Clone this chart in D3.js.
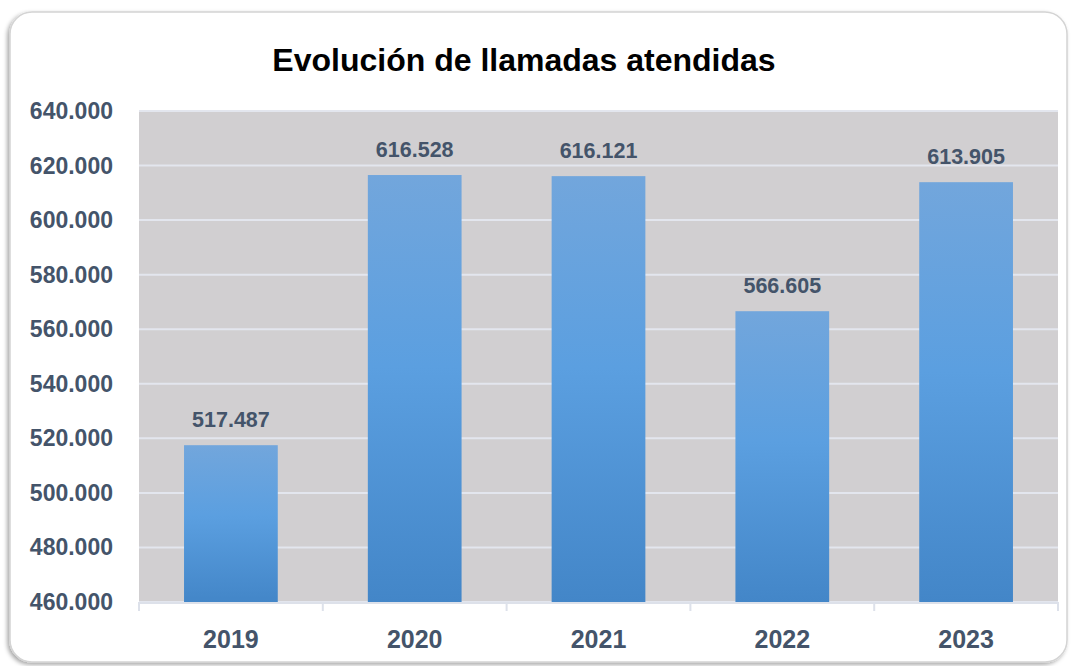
<!DOCTYPE html>
<html>
<head>
<meta charset="utf-8">
<script src="https://cdn.jsdelivr.net/npm/d3@7"></script>
<style>
  body { margin: 0; background: #fff; }
  text { font-family: "Liberation Sans", Arial, sans-serif; font-weight: bold; }
</style>
</head>
<body>
<div class="chart"></div>
<script>
const years = ['2019', '2020', '2021', '2022', '2023'];
const calls = [517487, 616528, 616121, 566605, 613905];
const yTicks = [460000, 480000, 500000, 520000, 540000, 560000, 580000, 600000, 620000, 640000];

const W = 1073, H = 666;
let margin = {top: 111, bottom: 64, left: 139, right: 15};
const width = W - margin.left - margin.right,
  height = H - margin.top - margin.bottom;

const fmt = d => d3.format(',')(d).replace(/,/g, '.');

const svg = d3.select('.chart').append('svg')
  .attr('width', W)
  .attr('height', H);

const defs = svg.append('defs');
const grad = defs.append('linearGradient')
  .attr('id', 'barGrad').attr('x1', 0).attr('y1', 0).attr('x2', 0).attr('y2', 1);
grad.append('stop').attr('offset', '0%').attr('stop-color', '#72a6dc');
grad.append('stop').attr('offset', '45%').attr('stop-color', '#5b9fe0');
grad.append('stop').attr('offset', '100%').attr('stop-color', '#4386c8');

const shadow = defs.append('filter').attr('id', 'shadow')
  .attr('x', '-5%').attr('y', '-5%').attr('width', '110%').attr('height', '110%');
shadow.append('feDropShadow').attr('dx', -2).attr('dy', 2).attr('stdDeviation', 2)
  .attr('flood-color', '#000').attr('flood-opacity', 0.35);

// outer frame
svg.append('rect')
  .attr('x', 10).attr('y', 12)
  .attr('width', 1057).attr('height', 650)
  .attr('rx', 22)
  .attr('fill', '#fff')
  .attr('stroke', '#d4d4d4')
  .attr('stroke-width', 1.5)
  .attr('filter', 'url(#shadow)');

svg.append('text')
  .attr('x', 524).attr('y', 71)
  .attr('text-anchor', 'middle')
  .style('font-size', '32px')
  .style('fill', '#000')
  .text('Evolución de llamadas atendidas');

const g = svg.append('g')
  .attr('transform', `translate(${margin.left},${margin.top})`);

let xScale = d3.scaleBand()
  .domain(years)
  .range([0, width])
  .paddingInner(0.49)
  .paddingOuter(0.245);

let yScale = d3.scaleLinear()
  .domain([460000, 640000])
  .range([height, 0]);

g.append('rect')
  .attr('width', width).attr('height', height)
  .attr('fill', '#d1cfd1');

g.selectAll('.grid')
  .data(yTicks)
  .enter()
  .append('line')
  .attr('class', 'grid')
  .attr('x1', 0).attr('x2', width)
  .attr('y1', d => yScale(d)).attr('y2', d => yScale(d))
  .attr('stroke', '#e3e6ee')
  .attr('stroke-width', 2);

g.selectAll('.bar')
  .data(calls)
  .enter()
  .append('rect')
  .attr('class', 'bar')
  .attr('x', (d, i) => xScale(years[i]))
  .attr('y', d => yScale(d))
  .attr('width', xScale.bandwidth())
  .attr('height', d => height - yScale(d))
  .attr('fill', 'url(#barGrad)');

g.selectAll('.val')
  .data(calls)
  .enter()
  .append('text')
  .attr('class', 'val')
  .attr('x', (d, i) => xScale(years[i]) + xScale.bandwidth() / 2)
  .attr('y', d => yScale(d) - 18)
  .attr('text-anchor', 'middle')
  .style('font-size', '21.5px')
  .style('fill', '#44546a')
  .text(d => fmt(d));

// bottom axis line and category separators
const step = xScale.step();
g.append('line')
  .attr('x1', 0).attr('x2', width)
  .attr('y1', height + 1).attr('y2', height + 1)
  .attr('stroke', '#dde1ea').attr('stroke-width', 2);
g.selectAll('.sep')
  .data(d3.range(years.length + 1))
  .enter()
  .append('line')
  .attr('class', 'sep')
  .attr('x1', i => i * step).attr('x2', i => i * step)
  .attr('y1', height).attr('y2', height + 9)
  .attr('stroke', '#dde1ea').attr('stroke-width', 2);

g.selectAll('.xlab')
  .data(years)
  .enter()
  .append('text')
  .attr('class', 'xlab')
  .attr('x', d => xScale(d) + xScale.bandwidth() / 2)
  .attr('y', height + 46)
  .attr('text-anchor', 'middle')
  .style('font-size', '25px')
  .style('fill', '#44546a')
  .text(d => d);

g.selectAll('.ylab')
  .data(yTicks)
  .enter()
  .append('text')
  .attr('class', 'ylab')
  .attr('x', -26)
  .attr('y', d => yScale(d) + 8)
  .attr('text-anchor', 'end')
  .style('font-size', '23px')
  .style('fill', '#44546a')
  .text(d => fmt(d));
</script>
</body>
</html>
